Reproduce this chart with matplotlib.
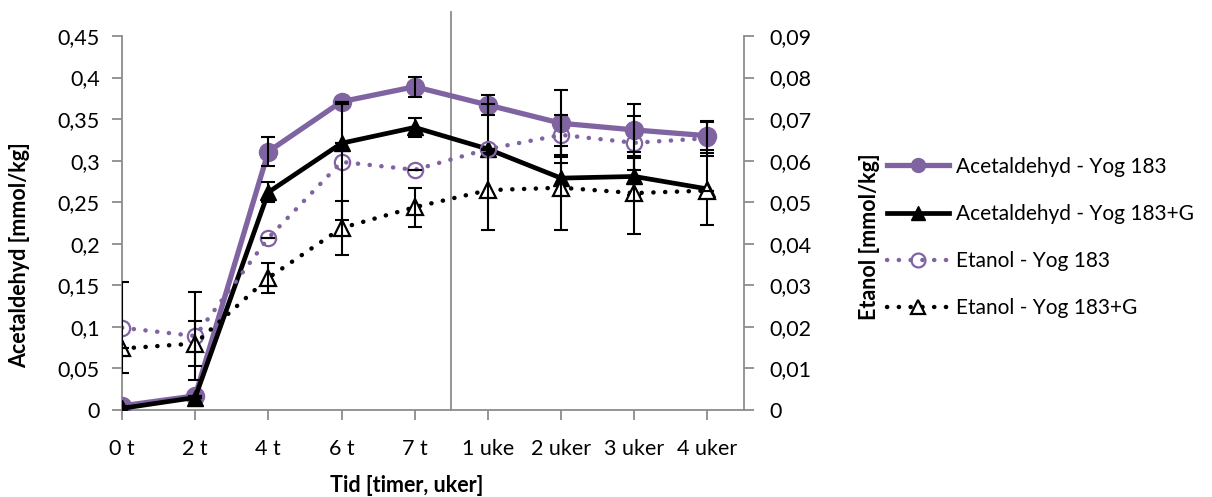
import matplotlib
matplotlib.use("Agg")
import matplotlib.pyplot as plt
from matplotlib.lines import Line2D
from matplotlib.ticker import FuncFormatter
import numpy as np

plt.rcParams['font.family'] = ['Lato', 'DejaVu Sans']

tid = ['0 t', '2 t', '4 t', '6 t', '7 t', '1 uke', '2 uker', '3 uker', '4 uker']

# acetaldehyd, venstre akse [mmol/kg]
acet_183 = [0.005, 0.017, 0.311, 0.371, 0.389, 0.367, 0.345, 0.337, 0.330]
acet_183_err = [0.0, 0.0, 0.018, 0.0, 0.012, 0.012, 0.040, 0.031, 0.017]
acet_183g = [0.002, 0.015, 0.262, 0.321, 0.340, 0.314, 0.279, 0.281, 0.266]
acet_183g_err = [0.0, 0.0, 0.012, 0.0, 0.011, 0.054, 0.018, 0.022, 0.043]

# etanol, hoyre akse [mmol/kg]
etan_183 = [0.0198, 0.0178, 0.0414, 0.0597, 0.0578, 0.0628, 0.0662, 0.0643, 0.0654]
etan_183_err = [0.0110, 0.0106, 0.0, 0.0139, 0.0, 0.0, 0.0048, 0.0065, 0.0042]
etan_183g = [0.0148, 0.0160, 0.0318, 0.0438, 0.0488, 0.0529, 0.0535, 0.0522, 0.0528]
etan_183g_err = [0.0, 0.0055, 0.0036, 0.0065, 0.0047, 0.0096, 0.0101, 0.0099, 0.0]

purple = '#8064A2'
grey = '#8C8C8C'
W, H = 1212, 497

fig = plt.figure(figsize=(W / 100, H / 100), dpi=100)
ax = fig.add_axes([122 / W, 1 - 410 / H, (744 - 122) / W, (410 - 36) / H])
ax2 = ax.twinx()

x = np.arange(len(tid))
dot = (0, (0.05, 2.6))

ax.plot(x, acet_183, color=purple, lw=3.8, marker='o', ms=13,
        mfc=purple, mec=purple, zorder=3, label='Acetaldehyd - Yog 183')
ax.plot(x, acet_183g, color='black', lw=3.4, marker='^', ms=11,
        mfc='black', mec='black', zorder=3, label='Acetaldehyd - Yog 183+G')
ax.errorbar(x, acet_183, yerr=acet_183_err, fmt='none', ecolor='black',
            elinewidth=1.5, capsize=5, capthick=1.5, zorder=4)
ax.errorbar(x, acet_183g, yerr=acet_183g_err, fmt='none', ecolor='black',
            elinewidth=1.5, capsize=5, capthick=1.5, zorder=4)

ax2.plot(x, etan_183, color=purple, lw=3.2, ls=dot, dash_capstyle='round',
         marker='o', ms=11, mfc='none', mec=purple, mew=1.6, zorder=3,
         label='Etanol - Yog 183')
ax2.plot(x, etan_183g, color='black', lw=3.2, ls=dot, dash_capstyle='round',
         marker='^', ms=12, mfc='white', mec='black', mew=1.6, zorder=3,
         label='Etanol - Yog 183+G')
ax2.errorbar(x, etan_183, yerr=etan_183_err, fmt='none', ecolor='black',
             elinewidth=1.5, capsize=5, capthick=1.5, zorder=4)
ax2.errorbar(x, etan_183g, yerr=etan_183g_err, fmt='none', ecolor='black',
             elinewidth=1.5, capsize=5, capthick=1.5, zorder=4)

ax.set_xlim(0, 8.5)
ax.set_ylim(0, 0.45)
ax2.set_ylim(0, 0.09)
ax.set_yticks(np.arange(0, 0.451, 0.05))
ax2.set_yticks(np.arange(0, 0.091, 0.01))

comma = FuncFormatter(lambda v, p: ('%g' % round(v, 3)).replace('.', ','))
ax.yaxis.set_major_formatter(comma)
ax2.yaxis.set_major_formatter(comma)

ax.set_xticks(x)
ax.set_xticklabels(tid)

for a in (ax, ax2):
    for side in ('top', 'left', 'right', 'bottom'):
        a.spines[side].set_visible(False)
ax.spines['left'].set_visible(True)
ax.spines['bottom'].set_visible(True)
ax2.spines['right'].set_visible(True)
for s in (ax.spines['left'], ax.spines['bottom'], ax2.spines['right']):
    s.set_color(grey)
    s.set_linewidth(1.3)

fs = 15.5
ax.tick_params(axis='both', direction='out', length=7, width=1.3, color=grey,
               labelsize=fs, pad=9)
ax2.tick_params(axis='y', direction='out', length=7, width=1.3, color=grey,
                labelsize=fs, pad=11)
ax.tick_params(axis='x', pad=14)

# skille mellom timer og uker
ax.axvline(4.5, ymin=0, ymax=(410 - 12) / 374, color=grey, lw=1.3,
           clip_on=False, zorder=1)

fig.text(20 / W, 1 - 255 / H, 'Acetaldehyd [mmol/kg]', rotation=90,
         fontsize=fs, fontweight='bold', ha='center', va='center')
fig.text(870 / W, 1 - 237 / H, 'Etanol [mmol/kg]', rotation=90,
         fontsize=fs, fontweight='bold', ha='center', va='center')
fig.text(407 / W, 1 - 485 / H, 'Tid [timer, uker]',
         fontsize=fs, fontweight='bold', ha='center', va='center')

handles = [
    Line2D([], [], color=purple, lw=3.8, marker='o', ms=10, mfc=purple, mec=purple),
    Line2D([], [], color='black', lw=3.4, marker='^', ms=10, mfc='black', mec='black'),
    Line2D([], [], color=purple, lw=3.2, ls=dot, dash_capstyle='round',
           marker='o', ms=10, mfc='none', mec=purple, mew=1.6),
    Line2D([], [], color='black', lw=3.2, ls=dot, dash_capstyle='round',
           marker='^', ms=10, mfc='white', mec='black', mew=1.6),
]
labels = ['Acetaldehyd - Yog 183', 'Acetaldehyd - Yog 183+G',
          'Etanol - Yog 183', 'Etanol - Yog 183+G']
fig.legend(handles, labels, loc='upper left',
           bbox_to_anchor=(868 / W, 1 - 138 / H), frameon=False,
           fontsize=15, handlelength=3.0, handletextpad=0.3, labelspacing=1.3)

fig.savefig('out.png', dpi=100)
